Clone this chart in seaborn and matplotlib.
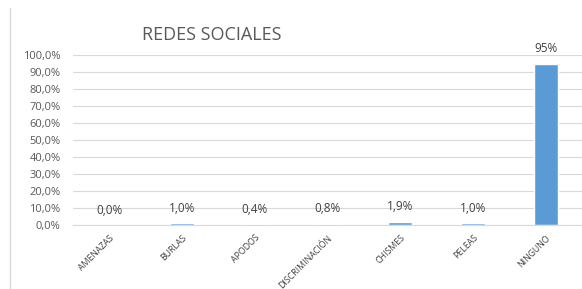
import numpy as np
import pandas as pd
import seaborn as sns
import matplotlib.pyplot as plt
from matplotlib.lines import Line2D

# datos del grafico
categorias = ["AMENAZAS", "BURLAS", "APODOS", "DISCRIMINACIÓN", "CHISMES", "PELEAS", "NINGUNO"]
valores = [0.0, 1.0, 0.4, 0.8, 1.9, 1.0, 95.0]
etiquetas = ["0,0%", "1,0%", "0,4%", "0,8%", "1,9%", "1,0%", "95%"]
yticks = [0, 10, 20, 30, 40, 50, 60, 70, 80, 90, 100]

df = pd.DataFrame({"categoria": categorias, "valor": valores})

sns.set_style("white")
plt.rcParams["font.family"] = ["Open Sans", "DejaVu Sans"]

fig = plt.figure(figsize=(5.82, 2.89), dpi=100)
ax = fig.add_axes([73 / 582, 1 - 225 / 289, 509 / 582, 170 / 289])

sns.barplot(data=df, x="categoria", y="valor", color="#5b9bd5", width=0.33,
            saturation=1, ax=ax)

ax.set_ylim(0, 100)
ax.set_yticks(yticks)
ax.set_yticklabels([f"{t},0%" for t in yticks], fontsize=8, color="#595959")
ax.set_xlim(-0.5, len(categorias) - 0.5)
ax.grid(axis="y", color="#d9d9d9", linewidth=0.8)
ax.set_axisbelow(True)
for s in ["top", "right", "left"]:
    ax.spines[s].set_visible(False)
ax.spines["bottom"].set_color("#d9d9d9")
ax.tick_params(axis="y", length=0, pad=9)
ax.tick_params(axis="x", length=0, pad=6)
ax.set_xlabel("")
ax.set_ylabel("")
ax.set_xticks(range(len(categorias)))
ax.set_xticklabels(categorias, rotation=45, ha="right", rotation_mode="anchor",
                   fontsize=6.3, color="#404040")

for i, (v, lab) in enumerate(zip(valores, etiquetas)):
    ax.annotate(lab, (i, v), xytext=(0, 6), textcoords="offset points",
                ha="center", va="bottom", fontsize=8.5, color="#404040")

fig.text(212 / 582, 1 - 35 / 289, "REDES SOCIALES", ha="center", va="center",
         fontsize=13, color="#595959")

fig.add_artist(Line2D([10.5 / 582, 10.5 / 582], [0, 1 - 8 / 289],
                      color="#d9d9d9", linewidth=1, transform=fig.transFigure))

fig.savefig("out.png", dpi=100)
